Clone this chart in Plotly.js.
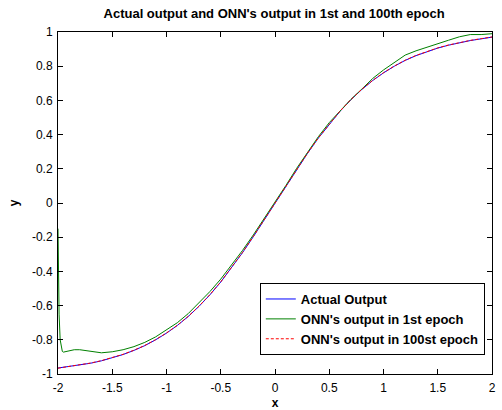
<!DOCTYPE html>
<html>
<head>
<meta charset="utf-8">
<script src="https://cdn.plot.ly/plotly-3.0.1.min.js"></script>
<style>
html,body{margin:0;padding:0;background:#fff;}
#chart{width:502px;height:410px;}
</style>
</head>
<body>
<div id="chart"></div>
<script>
// x grid for actual output and 100th epoch
const xActual = [-2.0,-1.9,-1.8,-1.7,-1.6,-1.5,-1.4,-1.3,-1.2,-1.1,-1.0,-0.9,-0.8,-0.7,-0.6,-0.5,-0.4,-0.3,-0.2,-0.1,0.0,0.1,0.2,0.3,0.4,0.5,0.6,0.7,0.8,0.9,1.0,1.1,1.2,1.3,1.4,1.5,1.6,1.7,1.8,1.9,2.0];
const actualOutput = [-0.965,-0.957,-0.948,-0.937,-0.923,-0.906,-0.886,-0.862,-0.834,-0.800,-0.761,-0.716,-0.664,-0.604,-0.537,-0.462,-0.380,-0.291,-0.197,-0.100,0.000,0.100,0.197,0.291,0.380,0.462,0.537,0.604,0.664,0.716,0.761,0.800,0.834,0.862,0.886,0.906,0.923,0.937,0.950,0.960,0.970];
const epoch100Output = [-0.966,-0.957,-0.947,-0.936,-0.922,-0.905,-0.885,-0.861,-0.833,-0.799,-0.760,-0.715,-0.663,-0.603,-0.536,-0.461,-0.379,-0.290,-0.196,-0.099,0.001,0.101,0.198,0.292,0.381,0.463,0.538,0.605,0.665,0.717,0.762,0.801,0.835,0.863,0.887,0.907,0.924,0.938,0.951,0.961,0.971];

// x grid and values for the 1st epoch
const xEpoch1 = [-2.0,-1.997,-1.99,-1.98,-1.97,-1.96,-1.95,-1.9,-1.85,-1.8,-1.75,-1.7,-1.65,-1.6,-1.5,-1.4,-1.3,-1.2,-1.1,-1.0,-0.9,-0.8,-0.7,-0.6,-0.5,-0.4,-0.3,-0.2,-0.1,0.0,0.1,0.2,0.3,0.4,0.5,0.6,0.7,0.8,0.9,1.0,1.1,1.2,1.3,1.4,1.5,1.6,1.7,1.8,1.9,2.0];
const epoch1Output = [-0.15,-0.40,-0.65,-0.80,-0.85,-0.868,-0.872,-0.865,-0.858,-0.858,-0.863,-0.869,-0.874,-0.876,-0.870,-0.858,-0.840,-0.815,-0.783,-0.742,-0.700,-0.647,-0.585,-0.518,-0.445,-0.365,-0.278,-0.187,-0.093,0.003,0.102,0.203,0.298,0.388,0.470,0.540,0.606,0.666,0.728,0.778,0.822,0.865,0.890,0.912,0.932,0.952,0.972,0.985,0.985,0.990];

const xTicks = [-2,-1.5,-1,-0.5,0,0.5,1,1.5,2];
const xTickText = ["-2","-1.5","-1","-0.5","0","0.5","1","1.5","2"];
const yTicks = [-1,-0.8,-0.6,-0.4,-0.2,0,0.2,0.4,0.6,0.8,1];
const yTickText = ["-1","-0.8","-0.6","-0.4","-0.2","0","0.2","0.4","0.6","0.8","1"];

const seriesNames = ["Actual Output","ONN's output in 1st epoch","ONN's output in 100st epoch"];
const titleText = "Actual output and ONN's output in 1st and 100th epoch";

const FONT = "Liberation Sans, Arial, Helvetica, sans-serif";

const traces = [
  {x: xActual, y: actualOutput, type: 'scatter', mode: 'lines', name: '<b>' + seriesNames[0] + '</b>',
   line: {color: 'rgb(0,0,255)', width: 1}},
  {x: xEpoch1, y: epoch1Output, type: 'scatter', mode: 'lines', name: '<b>' + seriesNames[1] + '</b>',
   line: {color: 'rgb(0,128,0)', width: 1}},
  {x: xActual, y: epoch100Output, type: 'scatter', mode: 'lines', name: '<b>' + seriesNames[2] + '</b>',
   line: {color: 'rgb(255,0,0)', width: 1, dash: '3px,2px'}}
];

const layout = {
  width: 502, height: 410,
  margin: {l: 58, r: 10, t: 32, b: 36, pad: 0},
  paper_bgcolor: '#fff', plot_bgcolor: '#fff',
  font: {family: FONT, size: 12, color: '#000'},
  title: {text: '<b>' + titleText + '</b>', font: {family: FONT, size: 13, color: '#000'},
          x: 0.546, xanchor: 'center', y: 0.966, yanchor: 'middle'},
  showlegend: true,
  legend: {x: 0.465, y: 0.266, xanchor: 'left', yanchor: 'top', bgcolor: '#fff',
           bordercolor: '#000', borderwidth: 1, font: {family: FONT, size: 13, color: '#000'},
           tracegroupgap: 0},
  xaxis: {range: [-2, 2], tickvals: xTicks, ticktext: xTickText, ticks: 'inside', ticklen: 5,
          tickcolor: '#000', showline: true, linecolor: '#000', linewidth: 1, mirror: 'ticks',
          showgrid: false, zeroline: false, tickfont: {family: FONT, size: 12}, ticklabelstandoff: 3,
          title: {text: '<b>x</b>', font: {family: FONT, size: 12}, standoff: 6}},
  yaxis: {range: [-1, 1], tickvals: yTicks, ticktext: yTickText, ticks: 'inside', ticklen: 5,
          tickcolor: '#000', showline: true, linecolor: '#000', linewidth: 1, mirror: 'ticks',
          showgrid: false, zeroline: false, tickfont: {family: FONT, size: 12}, ticklabelstandoff: 2,
          title: {text: '<b>y</b>', font: {family: FONT, size: 12}, standoff: 10}}
};

Plotly.newPlot('chart', traces, layout, {displayModeBar: false, staticPlot: true});
</script>
</body>
</html>
